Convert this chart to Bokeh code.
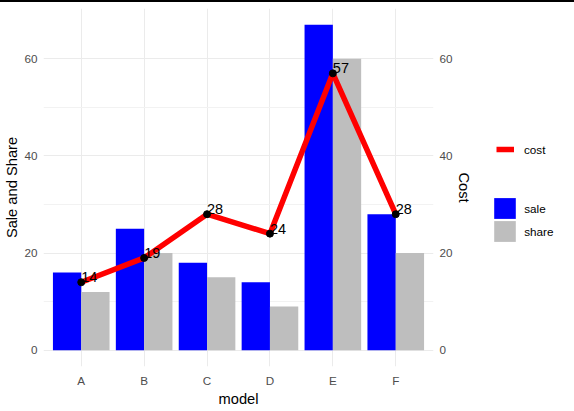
from bokeh.plotting import figure
from bokeh.models import (ColumnDataSource, Range1d, LinearAxis, FixedTicker,
                          Legend, LegendItem, Div)
from bokeh.layouts import column, row
from bokeh.transform import dodge
from bokeh.core.properties import value
from bokeh.embed import file_html
from bokeh.resources import INLINE

# ---- data ----
models = ["A", "B", "C", "D", "E", "F"]
sale = [16, 25, 18, 14, 67, 28]
share = [12, 20, 15, 9, 60, 20]
cost = [14, 19, 28, 24, 57, 28]
y_ticks = [0, 20, 40, 60]
y_minor = [10, 30, 50]

xpos = list(range(1, len(models) + 1))
labels = [str(c) for c in cost]
src = ColumnDataSource(dict(x=xpos, sale=sale, share=share, cost=cost, label=labels))

FONT = "Liberation Sans"
SALE_C, SHARE_C, COST_C = "blue", "#BEBEBE", "red"
ymax = max(max(sale), max(share), max(cost))
pad = ymax * 0.05

H = 409
MAIN_W = 488
p = figure(width=MAIN_W, height=H, output_backend="svg", toolbar_location=None,
           x_range=Range1d(0.4, len(models) + 0.6),
           y_range=Range1d(-pad, ymax + pad),
           min_border_left=43, min_border_right=55, min_border_top=6,
           min_border_bottom=45)
p.extra_y_ranges = {"cost": Range1d(-pad, ymax + pad)}
p.outline_line_color = None

# bars
p.vbar(x=dodge("x", -0.225), top="sale", bottom=0, width=0.45, source=src,
       fill_color=SALE_C, line_color=None)
p.vbar(x=dodge("x", 0.225), top="share", bottom=0, width=0.45, source=src,
       fill_color=SHARE_C, line_color=None)
# cost line
p.line(x="x", y="cost", source=src, line_color=COST_C, line_width=5.5,
       y_range_name="cost")
p.scatter(x="x", y="cost", source=src, size=7, fill_color="black", line_color="black",
          y_range_name="cost")
p.text(x="x", y="cost", text="label", source=src, y_range_name="cost",
       text_align="left", text_baseline="alphabetic", text_font=value(FONT),
       text_font_size="14.5px", text_color="black", y_offset=-5)

# axes
xa = p.xaxis[0]
xa.ticker = FixedTicker(ticks=xpos)
xa.major_label_overrides = {x: m for x, m in zip(xpos, models)}
xa.axis_label = "model"
ya = p.yaxis[0]
ya.ticker = FixedTicker(ticks=y_ticks, minor_ticks=y_minor)
ya.axis_label = "Sale and Share"
ra = LinearAxis(y_range_name="cost", axis_label="Cost",
                ticker=FixedTicker(ticks=y_ticks, minor_ticks=y_minor))
p.add_layout(ra, "right")

for ax in (xa, ya, ra):
    ax.axis_line_color = None
    ax.major_tick_line_color = None
    ax.minor_tick_line_color = None
    ax.major_tick_out = 0
    ax.major_tick_in = 0
    ax.minor_tick_out = 0
    ax.minor_tick_in = 0
    ax.major_label_text_font = FONT
    ax.major_label_text_font_size = "11.7px"
    ax.major_label_text_color = "#4D4D4D"
    ax.axis_label_text_font = FONT
    ax.axis_label_text_font_size = "14.7px"
    ax.axis_label_text_font_style = "normal"
    ax.axis_label_text_color = "black"
xa.major_label_standoff = 7
xa.axis_label_standoff = 1
ya.major_label_standoff = 6
ya.axis_label_standoff = 1
ra.major_label_standoff = 6
ra.axis_label_standoff = 0

# grid
p.xgrid.grid_line_color = "#EBEBEB"
p.xgrid.grid_line_width = 1
p.ygrid.grid_line_color = "#EBEBEB"
p.ygrid.grid_line_width = 1
p.ygrid.minor_grid_line_color = "#F2F2F2"
p.ygrid.minor_grid_line_width = 1

# ---- legend panel (keys drawn off-range, only their legend glyphs show) ----
lg = figure(width=574 - MAIN_W, height=H, output_backend="svg", toolbar_location=None,
            x_range=Range1d(0, 1), y_range=Range1d(0, 1),
            min_border=0, min_border_left=0, min_border_right=0,
            min_border_top=0, min_border_bottom=0)
lg.xaxis.visible = False
lg.yaxis.visible = False
lg.grid.visible = False
lg.outline_line_color = None
k_cost = lg.line(x=[5, 6], y=[5, 5], line_color=COST_C, line_width=5.5)
k_sale = lg.vbar(x=[5], top=[6], bottom=[5], width=0.5, fill_color=SALE_C, line_color=None)
k_share = lg.vbar(x=[5], top=[6], bottom=[5], width=0.5, fill_color=SHARE_C, line_color=None)

common = dict(padding=0, margin=0, border_line_color=None, background_fill_alpha=0,
              label_text_font=FONT, label_text_font_size="11.7px",
              label_text_color="black")
leg_cost = Legend(items=[LegendItem(label="cost", renderers=[k_cost])],
                  location=(8, 209), glyph_width=18, glyph_height=16,
                  label_height=16, label_standoff=10, **common)
leg_sale = Legend(items=[LegendItem(label="sale", renderers=[k_sale])],
                  location=(3.25, 144.6), glyph_width=27, glyph_height=26,
                  label_height=26, label_standoff=6, **common)
leg_share = Legend(items=[LegendItem(label="share", renderers=[k_share])],
                   location=(3.25, 121.9), glyph_width=27, glyph_height=26,
                   label_height=26, label_standoff=6, **common)
lg.add_layout(leg_cost, "center")
lg.add_layout(leg_sale, "center")
lg.add_layout(leg_share, "center")

topline = Div(width=574, height=2, styles={"background-color": "black"}, margin=0)
layout = column(topline, row(p, lg, spacing=0), spacing=0)

open("out.html", "w").write(file_html(layout, INLINE))
